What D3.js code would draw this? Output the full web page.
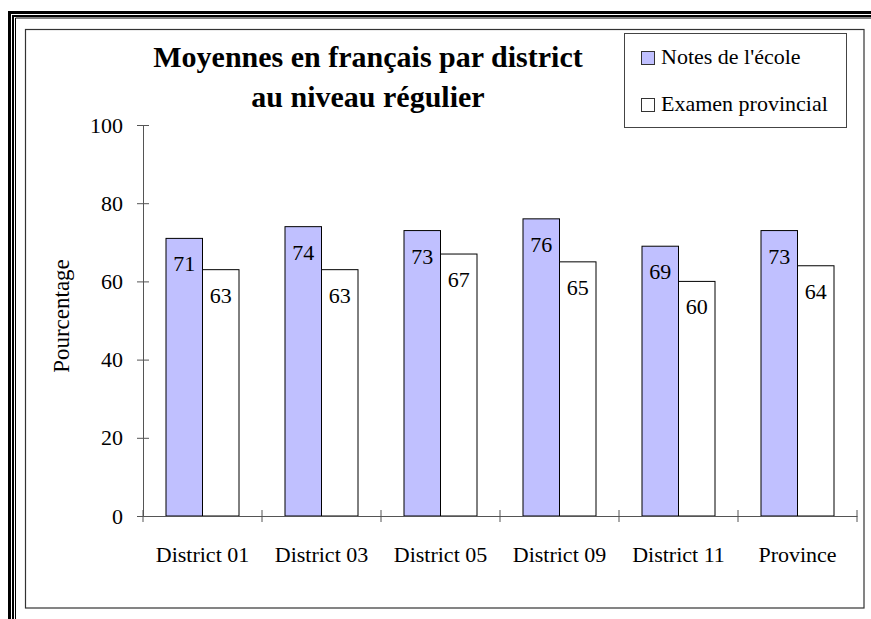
<!DOCTYPE html>
<html>
<head>
<meta charset="utf-8">
<script src="https://cdn.jsdelivr.net/npm/d3@7"></script>
<style>
  html, body { margin: 0; padding: 0; background: #fff; overflow: hidden; }
  svg { display: block; }
  svg text { font-family: "Times New Roman", "Liberation Serif", serif; fill: #000; }
</style>
</head>
<body>
<svg id="chart"></svg>
<script>
// Chart data
const categories = ["District 01", "District 03", "District 05", "District 09", "District 11", "Province"];
const series = ["Notes de l'école", "Examen provincial"];
const schoolScores = [71, 74, 73, 76, 69, 73];
const examScores = [63, 63, 67, 65, 60, 64];
const yTicks = [0, 20, 40, 60, 80, 100];
const seriesColors = ["#c0c0ff", "#ffffff"];

const width = 871, height = 619;
const svg = d3.select("#chart").attr("width", width).attr("height", height);

// Outer decorative frame: only the top and left edges are inside the picture
[[9.5, 12.5, 3], [13, 16, 2], [15.5, 18, 1]].forEach(([fx, fy, w]) => {
  svg.append("path")
    .attr("d", `M${fx},${height + 5}V${fy}H${width + 5}`)
    .attr("fill", "none").attr("stroke", "#000").attr("stroke-width", w);
});

// Chart area border
svg.append("rect").attr("x", 25.5).attr("y", 29.5).attr("width", 838.5).attr("height", 578.5)
  .attr("fill", "#fff").attr("stroke", "#333").attr("stroke-width", 1.2);

// Scales
const x = d3.scaleBand().domain(categories).range([143, 857]).padding(0);
const x1 = d3.scaleBand().domain(series).range([0, x.bandwidth()]).paddingInner(0).paddingOuter(0.63);
const y = d3.scaleLinear().domain([0, 100]).range([516, 125]);
const color = d3.scaleOrdinal().domain(series).range(seriesColors);

const rows = categories.map((c, i) => ({
  cat: c,
  vals: [{ s: series[0], v: schoolScores[i] }, { s: series[1], v: examScores[i] }]
}));

// Bars
const groups = svg.append("g").selectAll("g").data(rows).join("g")
  .attr("transform", d => `translate(${x(d.cat)},0)`);

groups.selectAll("rect").data(d => d.vals).join("rect")
  .attr("x", d => x1(d.s))
  .attr("y", d => y(d.v))
  .attr("width", x1.bandwidth())
  .attr("height", d => y(0) - y(d.v))
  .attr("fill", d => color(d.s))
  .attr("stroke", "#000")
  .attr("stroke-width", 1);

groups.selectAll("text").data(d => d.vals).join("text")
  .attr("x", d => x1(d.s) + x1.bandwidth() / 2)
  .attr("y", d => y(d.v) + 33)
  .attr("text-anchor", "middle")
  .attr("font-size", 22)
  .text(d => d.v);

// Y axis
const yAxis = svg.append("g").attr("transform", "translate(143,0)")
  .call(d3.axisLeft(y).tickValues(yTicks).tickSize(0).tickPadding(20));
yAxis.select(".domain").attr("stroke", "#555");
yAxis.selectAll("text").attr("font-size", 22);
yAxis.selectAll(".tick").append("line")
  .attr("x1", -6).attr("x2", 6).attr("stroke", "#555");

// X axis
const xAxis = svg.append("g").attr("transform", "translate(0,516)")
  .call(d3.axisBottom(x).tickSize(0).tickPadding(30));
xAxis.select(".domain").attr("stroke", "#555");
xAxis.selectAll("text").attr("font-size", 22);
const bounds = categories.map(c => x(c)).concat([x.range()[1]]);
xAxis.selectAll("line.sep").data(bounds).join("line")
  .attr("class", "sep")
  .attr("x1", d => d).attr("x2", d => d)
  .attr("y1", -6).attr("y2", 6)
  .attr("stroke", "#555");

// Y axis title
svg.append("text")
  .attr("transform", "translate(69,316) rotate(-90)")
  .attr("text-anchor", "middle")
  .attr("font-size", 23)
  .text("Pourcentage");

// Title
const title = svg.append("text").attr("text-anchor", "middle")
  .attr("font-size", 30).attr("font-weight", "bold");
title.append("tspan").attr("x", 368).attr("y", 67).text("Moyennes en français par district");
title.append("tspan").attr("x", 368).attr("y", 107).text("au niveau régulier");

// Legend
svg.append("rect").attr("x", 624.5).attr("y", 33.5).attr("width", 222).attr("height", 94)
  .attr("fill", "#fff").attr("stroke", "#444").attr("stroke-width", 1);
const legend = svg.append("g").selectAll("g").data(series).join("g")
  .attr("transform", (d, i) => `translate(641,${51 + i * 47})`);
legend.append("rect").attr("x", 0.5).attr("y", 0.5).attr("width", 13).attr("height", 13)
  .attr("fill", d => color(d)).attr("stroke", "#333");
legend.append("text").attr("x", 20).attr("y", 12.5).attr("font-size", 22).text(d => d);
</script>
</body>
</html>
